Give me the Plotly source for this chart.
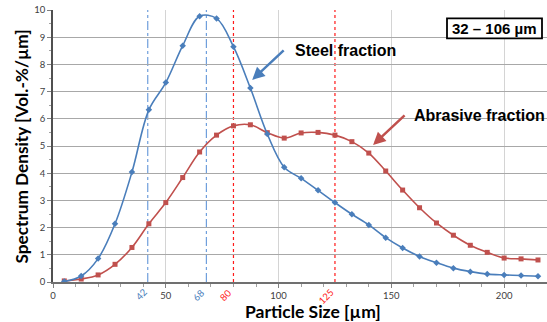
import plotly.graph_objects as go

size_um = [5, 12.5, 20, 27.5, 35, 42.5, 50, 57.5, 65, 72.5, 80, 87.5, 95, 102.5, 110,
           117.5, 125, 132.5, 140, 147.5, 155, 162.5, 170, 177.5, 185, 192.5, 200, 207.5, 215]
steel = [0.02, 0.22, 0.86, 2.14, 4.04, 6.33, 7.33, 8.69, 9.77, 9.69, 8.65, 7.13, 5.44, 4.22, 3.81,
         3.37, 2.92, 2.49, 2.10, 1.63, 1.25, 0.94, 0.71, 0.51, 0.38, 0.29, 0.26, 0.24, 0.21]
abrasive = [0.04, 0.11, 0.26, 0.65, 1.27, 2.14, 2.92, 3.84, 4.78, 5.40, 5.74, 5.78, 5.49, 5.29, 5.48,
            5.50, 5.40, 5.16, 4.74, 4.08, 3.38, 2.73, 2.17, 1.72, 1.35, 1.09, 0.88, 0.85, 0.81]
steel_marks = [42, 68]
abrasive_marks = [80, 125]
x_ticks = [0, 50, 100, 150, 200]
y_ticks = list(range(0, 11))

BLUE = "#4a7ebb"
RED = "#c0504d"
LBLUE = "#6f9fdc"
LRED = "#ff1a1a"
TICKFONT = dict(family="Lato, Open Sans, sans-serif", size=9.5, color="#404040")

W, H = 547, 322
L, R, T, B = 53, 0, 10, 40
PW, PH = W - L - R, H - T - B


def px(x):
    return (x - L) / PW


def py(y):
    return 1 - (y - T) / PH


fig = go.Figure()

for v in steel_marks:
    fig.add_shape(type="line", x0=v, x1=v, y0=0, y1=10, xref="x", yref="y",
                  line=dict(color=LBLUE, width=1.2, dash="dashdot"), layer="below")
for v in abrasive_marks:
    fig.add_shape(type="line", x0=v, x1=v, y0=0, y1=10, xref="x", yref="y",
                  line=dict(color=LRED, width=1.2, dash="dot"), layer="below")

# range box
fig.add_shape(type="rect", xref="paper", yref="paper", x0=px(447), x1=px(542),
              y0=py(38.3), y1=py(18.3), line=dict(color="black", width=1.8),
              fillcolor="white", layer="above")

fig.add_trace(go.Scatter(x=size_um, y=abrasive, mode="lines+markers",
                         line=dict(color=RED, width=1.6, shape="spline", smoothing=1),
                         marker=dict(symbol="square", size=5, color=RED), showlegend=False))
fig.add_trace(go.Scatter(x=size_um, y=steel, mode="lines+markers",
                         line=dict(color=BLUE, width=1.6, shape="spline", smoothing=1),
                         marker=dict(symbol="diamond", size=5, color=BLUE), showlegend=False))

annotations = []
for v in steel_marks:
    annotations.append(dict(x=v, y=0, xref="x", yref="y", text=str(v), showarrow=False,
                            textangle=-45, xanchor="right", yanchor="top", xshift=4, yshift=-2,
                            font=dict(family="Lato, sans-serif", size=9.5, color="#4a7ebb")))
for v in abrasive_marks:
    annotations.append(dict(x=v, y=0, xref="x", yref="y", text=str(v), showarrow=False,
                            textangle=-45, xanchor="right", yanchor="top", xshift=4, yshift=-2,
                            font=dict(family="Lato, sans-serif", size=9.5, color=LRED)))

# arrows with labels
annotations.append(dict(x=88.3, y=7.43, xref="x", yref="y", ax=33, ay=-31,
                        text="", showarrow=True, arrowhead=2, arrowsize=1, arrowwidth=2.5,
                        arrowcolor=BLUE))
annotations.append(dict(x=141.9, y=5.04, xref="x", yref="y", ax=33, ay=-31, text="",
                        showarrow=True, arrowhead=2, arrowsize=1, arrowwidth=2.5, arrowcolor=RED))
annotations.append(dict(x=px(293), y=py(50), xref="paper", yref="paper",
                        text="<b>Steel fraction</b>", showarrow=False, xanchor="left",
                        yanchor="middle",
                        font=dict(family="Liberation Sans, Arial, sans-serif", size=16, color="black")))
annotations.append(dict(x=px(412), y=py(116), xref="paper", yref="paper",
                        text="<b>Abrasive fraction</b>", showarrow=False, xanchor="left",
                        yanchor="middle",
                        font=dict(family="Liberation Sans, Arial, sans-serif", size=16, color="black")))
annotations.append(dict(x=px(494.5), y=py(28.3), xref="paper", yref="paper",
                        text="<b>32 – 106 µm</b>", showarrow=False, xanchor="center",
                        yanchor="middle",
                        font=dict(family="Liberation Sans, Arial, sans-serif", size=15, color="black")))
# axis titles
annotations.append(dict(x=px(313), y=py(311.5), xref="paper", yref="paper",
                        text="<b>Particle Size [µm]</b>", showarrow=False, xanchor="center",
                        yanchor="middle",
                        font=dict(family="Lato, Open Sans, sans-serif", size=17.5, color="black")))
annotations.append(dict(x=px(21), y=py(146.5), xref="paper", yref="paper",
                        text="<b>Spectrum Density [Vol.-%/µm]</b>", showarrow=False,
                        xanchor="center", yanchor="middle", textangle=-90,
                        font=dict(family="Lato, Open Sans, sans-serif", size=17.2, color="black")))

fig.update_layout(
    width=W, height=H,
    margin=dict(l=L, r=R, t=T, b=B),
    paper_bgcolor="white", plot_bgcolor="white",
    annotations=annotations,
    xaxis=dict(range=[0, 219], tickvals=x_ticks, showgrid=True, gridcolor="#d4d4d4",
               gridwidth=1, zeroline=False, showline=True, linecolor="#707070", linewidth=1.5,
               ticks="outside", ticklen=4, tickcolor="#808080", tickfont=TICKFONT,
               minor=dict(dtick=10, ticks="outside", ticklen=3, tickcolor="#a0a0a0", showgrid=False)),
    yaxis=dict(range=[0, 10], tickvals=y_ticks, showgrid=True, gridcolor="#a8a8a8",
               gridwidth=1, zeroline=False, showline=True, linecolor="#505050", linewidth=1.5,
               ticks="outside", ticklen=4, tickcolor="#808080", tickfont=TICKFONT,
               minor=dict(dtick=0.5, ticks="outside", ticklen=2, tickcolor="#a0a0a0", showgrid=False)),
)

fig.write_html("out.html", config={"displayModeBar": False},
               post_script="document.body.style.margin='0';document.body.style.overflow='hidden';")
